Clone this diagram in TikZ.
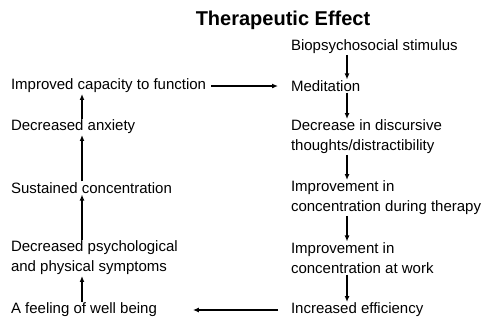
\documentclass[tikz,border=0pt]{standalone}
\usepackage{fontspec}
\setmainfont{Liberation Sans}
\usetikzlibrary{arrows.meta}
\begin{document}
\begin{tikzpicture}[x=1pt, y=-1pt, inner sep=1pt, outer sep=0,
  item/.style={anchor=west, align=left, font=\fontsize{15}{20}\selectfont},
  flow/.style={-{Latex[length=6pt,width=5pt]}, line width=1.3pt}]
  \useasboundingbox (0,0) rectangle (481,322);
  \node[font=\fontsize{20}{24}\selectfont\bfseries] (title) at (283,20) {Therapeutic Effect};

  % right column
  \node[item] (bio) at (290,47) {Biopsychosocial stimulus};
  \node[item] (med) at (290,86) {Meditation};
  \node[item] (disc) at (290,137) {Decrease in discursive\\thoughts/distractibility};
  \node[item] (ther) at (290,198) {Improvement in\\concentration during therapy};
  \node[item] (work) at (290,258) {Improvement in\\concentration at work};
  \node[item] (eff) at (290,310) {Increased efficiency};

  % left column
  \node[item] (func) at (10,86) {Improved capacity to function};
  \node[item] (anx) at (10,127) {Decreased anxiety};
  \node[item] (sust) at (10,188) {Sustained concentration};
  \node[item] (symp) at (10,258) {Decreased psychological\\and physical symptoms};
  \node[item] (well) at (10,310) {A feeling of well being};

  \coordinate (rx) at (347,0);
  \coordinate (lx) at (82,0);

  % down the right side
  \draw[flow] (bio.south -| rx) -- (med.north -| rx);
  \draw[flow] (med.south -| rx) -- (disc.north -| rx);
  \draw[flow] (disc.south -| rx) -- (ther.north -| rx);
  \draw[flow] (ther.south -| rx) -- (work.north -| rx);
  \draw[flow] (work.south -| rx) -- (eff.north -| rx);

  % up the left side
  \draw[flow] (well.north -| lx) -- (symp.south -| lx);
  \draw[flow] (symp.north -| lx) -- (sust.south -| lx);
  \draw[flow] (sust.north -| lx) -- (anx.south -| lx);
  \draw[flow] (anx.north -| lx) -- (func.south -| lx);

  % across
  \draw[flow] ([xshift=4pt]func.east) -- ([xshift=-12pt]med.west);
  \draw[flow] ([xshift=-12pt]eff.west) -- ([xshift=35pt]well.east);
\end{tikzpicture}
\end{document}
